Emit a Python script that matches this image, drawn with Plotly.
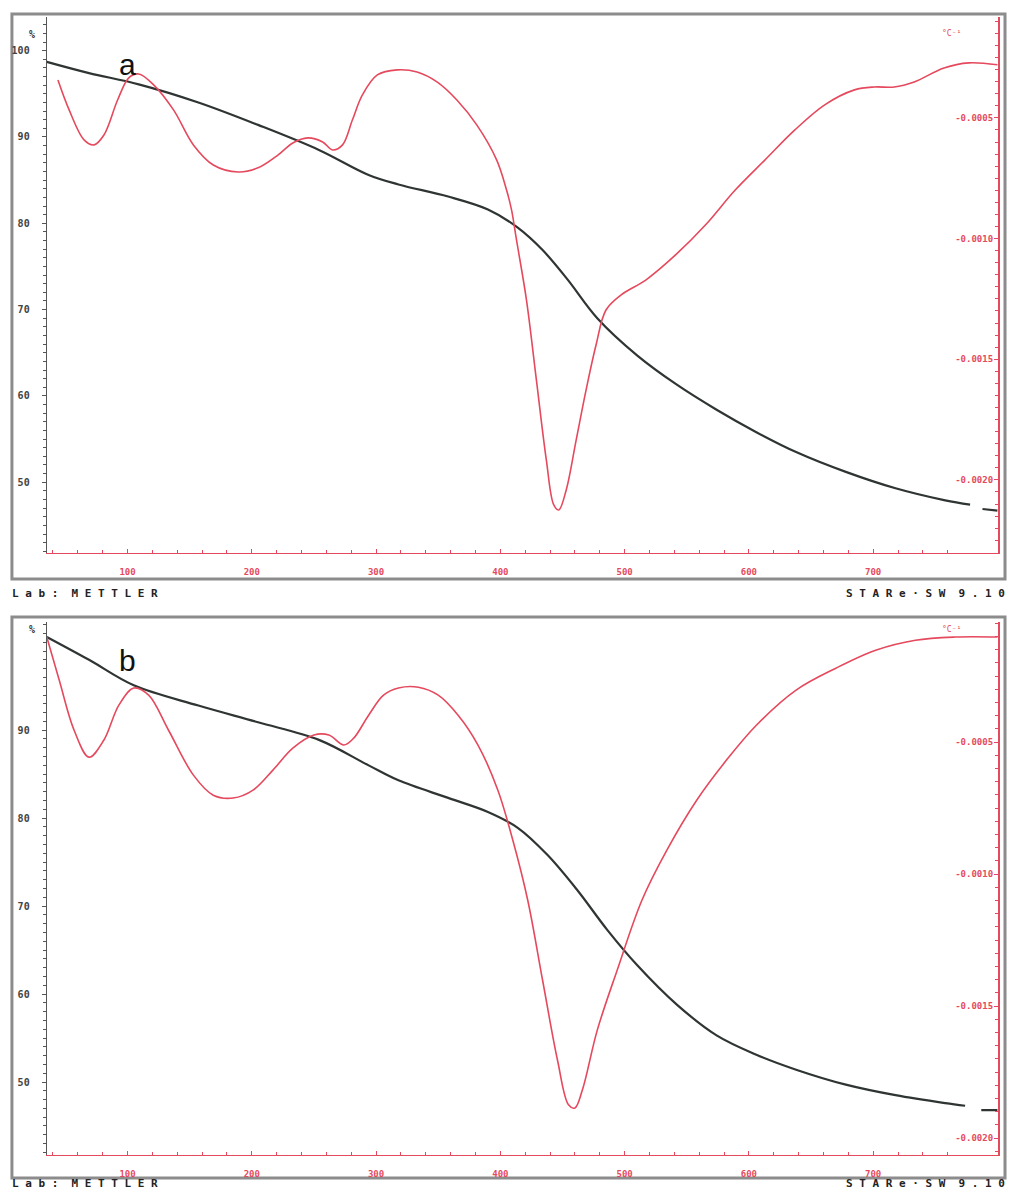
import plotly.graph_objects as go

W, H = 1013, 1201

# ---------------- Panel a ----------------
temp_a_tg = [35, 69, 109, 157, 205, 254, 294, 318, 358, 390, 414, 434, 454, 478, 510, 542,
             574, 606, 638, 678, 718, 758, 778, None, 788, 800]
tg_a = [98.7, 97.4, 96.1, 94.0, 91.4, 88.5, 85.6, 84.5, 83.1, 81.6, 79.5, 76.9, 73.5, 69.0,
        64.7, 61.3, 58.4, 55.8, 53.5, 51.2, 49.3, 47.9, 47.4, None, 46.9, 46.7]

temp_a_dtg = [44, 53, 65, 73, 81, 92, 101, 109, 121, 137, 153, 169, 189, 205, 221, 233, 245,
              257, 265, 273, 281, 289, 301, 317, 333, 349, 365, 381, 397, 405, 409, 413, 421,
              429, 437, 443, 447, 453, 461, 469, 477, 485, 497, 517, 541, 565, 589, 613, 637,
              661, 685, 701, 717, 733, 757, 777, 800]
dtg_a = [-0.000343, -0.000467, -0.000591, -0.000612, -0.000571, -0.000426, -0.000334, -0.000318,
         -0.000363, -0.000467, -0.000612, -0.000695, -0.000724, -0.000707, -0.000654, -0.000604,
         -0.000583, -0.000600, -0.000633, -0.000612, -0.000508, -0.000405, -0.000322, -0.000301,
         -0.000310, -0.000351, -0.000426, -0.000529, -0.000674, -0.000799, -0.000881, -0.001006,
         -0.001254, -0.001586, -0.001917, -0.002104, -0.002125, -0.002042, -0.001835, -0.001627,
         -0.001441, -0.001296, -0.001234, -0.001172, -0.001068, -0.000944, -0.000799, -0.000674,
         -0.000550, -0.000446, -0.000384, -0.000372, -0.000372, -0.000351, -0.000293, -0.000272,
         -0.000280]

# ---------------- Panel b ----------------
temp_b_tg = [35, 69, 105, 157, 205, 254, 294, 318, 358, 390, 414, 438, 462, 486, 510, 542,
             574, 606, 638, 678, 718, 758, 774, None, 787, 800]
tg_b = [100.6, 98.0, 95.1, 92.8, 90.9, 88.9, 86.0, 84.3, 82.3, 80.7, 78.9, 75.8, 71.8, 67.3,
        63.3, 58.8, 55.3, 53.1, 51.4, 49.7, 48.5, 47.6, 47.3, None, 46.8, 46.8]

temp_b_dtg = [35, 45, 57, 69, 81, 93, 105, 117, 133, 153, 169, 185, 201, 217, 233, 250, 262,
              274, 282, 294, 306, 318, 334, 350, 366, 382, 398, 410, 422, 434, 446, 455, 460,
              466, 478, 494, 514, 534, 558, 582, 606, 638, 670, 702, 734, 766, 800]
dtg_b = [-0.000102, -0.000265, -0.000455, -0.000557, -0.000492, -0.000360, -0.000295, -0.000322,
         -0.000455, -0.000625, -0.000701, -0.000712, -0.000682, -0.000606, -0.000523, -0.000473,
         -0.000473, -0.000511, -0.000485, -0.000398, -0.000322, -0.000295, -0.000292, -0.000322,
         -0.000398, -0.000511, -0.000682, -0.000871, -0.001098, -0.001402, -0.001705, -0.001875,
         -0.001886, -0.001818, -0.001591, -0.001364, -0.001098, -0.000909, -0.000720, -0.000568,
         -0.000436, -0.000303, -0.000220, -0.000152, -0.000114, -0.000102, -0.000102]

x_tickvals = [100, 200, 300, 400, 500, 600, 700, 800]
x_ticktext = ["100", "200", "300", "400", "500", "600", "700", "°C"]
tg_tickvals_a = [50, 60, 70, 80, 90, 100]
tg_tickvals_b = [50, 60, 70, 80, 90]
dtg_tickvals = [-0.0005, -0.0010, -0.0015, -0.0020]
dtg_ticktext = ["-0.0005", "-0.0010", "-0.0015", "-0.0020"]

BLACK = "#2f3533"
RED = "#e5495d"
GREY = "#8c8c8c"


def px(x):
    return x / W


def py(y):
    return 1 - y / H


fig = go.Figure()
fig.add_trace(go.Scatter(x=temp_a_tg, y=tg_a, mode="lines",
                         line=dict(color=BLACK, width=2.2, shape="spline", smoothing=1.0),
                         xaxis="x", yaxis="y", showlegend=False, connectgaps=False))
fig.add_trace(go.Scatter(x=temp_a_dtg, y=dtg_a, mode="lines", line=dict(color=RED, width=1.6, shape="spline"),
                         xaxis="x", yaxis="y2", showlegend=False))
fig.add_trace(go.Scatter(x=temp_b_tg, y=tg_b, mode="lines",
                         line=dict(color=BLACK, width=2.2, shape="spline", smoothing=1.0),
                         xaxis="x2", yaxis="y3", showlegend=False, connectgaps=False))
fig.add_trace(go.Scatter(x=temp_b_dtg, y=dtg_b, mode="lines", line=dict(color=RED, width=1.6, shape="spline"),
                         xaxis="x2", yaxis="y4", showlegend=False))

tickfont_dark = dict(family="DejaVu Sans Mono", size=10, color="#444444", weight="bold")
tickfont_red = dict(family="DejaVu Sans Mono", size=9, color=RED, weight="bold")


def xaxis_def(anchor):
    return dict(domain=[px(47), px(1003)], anchor=anchor, range=[35, 800.5],
                tickvals=x_tickvals, ticktext=x_ticktext, tickfont=tickfont_red,
                showgrid=False, zeroline=False, showline=True, linecolor=RED, linewidth=1.2,
                ticks="inside", ticklen=4, tickcolor=RED, ticklabelstandoff=10,
                minor=dict(dtick=20, tick0=0, ticks="inside", ticklen=3, tickcolor=RED))


def tg_axis(dom, rng, tv, anchor):
    return dict(domain=dom, anchor=anchor, range=rng, tickvals=tv, ticktext=[str(v) for v in tv],
                tickfont=tickfont_dark, showgrid=False, zeroline=False, showline=True,
                linecolor="#555555", linewidth=1.2, ticks="outside", ticklen=4,
                tickcolor="#555555", ticklabelstandoff=10,
                minor=dict(dtick=1, tick0=0, ticks="outside", ticklen=3, tickcolor="#555555"))


def dtg_axis(over, rng, anchor):
    return dict(overlaying=over, side="right", anchor=anchor, range=rng, tickvals=dtg_tickvals,
                ticktext=dtg_ticktext, tickfont=tickfont_red, ticklabelposition="inside",
                showgrid=False, zeroline=False, showline=True, linecolor=RED, linewidth=1.5,
                ticks="inside", ticklen=4, tickcolor=RED,
                minor=dict(dtick=0.00005, tick0=0, ticks="inside", ticklen=3, tickcolor=RED))


dom_a = [py(553), py(17)]
dom_b = [py(1155), py(622)]

fig.update_layout(
    width=W, height=H, margin=dict(l=0, r=0, t=0, b=0),
    paper_bgcolor="white", plot_bgcolor="white",
    xaxis=xaxis_def("y"),
    xaxis2=xaxis_def("y3"),
    yaxis=tg_axis(dom_a, [41.8, 103.9], tg_tickvals_a, "x"),
    yaxis2=dtg_axis("y", [-0.002303, -0.000082], "x"),
    yaxis3=tg_axis(dom_b, [41.7, 102.3], tg_tickvals_b, "x2"),
    yaxis4=dtg_axis("y3", [-0.002064, -0.000045], "x2"),
)

shapes = []
for (top, bot) in [(14, 579), (617, 1178)]:
    shapes.append(dict(type="rect", xref="paper", yref="paper", x0=px(12), x1=px(1010),
                       y0=py(bot), y1=py(top), line=dict(color=GREY, width=3), layer="below"))
fig.update_layout(shapes=shapes)

ann = []
for y_top, letter, y_letter, y_foot in [(27, "a", 46, 593), (629, "b", 660, 1192)]:
    ann.append(dict(text="%", x=px(27), y=py(y_top), xref="paper", yref="paper", showarrow=False,
                    font=dict(family="DejaVu Sans Mono", size=10, color="#333333", weight="bold")))
    ann.append(dict(text="°C⁻¹", x=px(968), y=py(y_top), xref="paper", yref="paper", showarrow=False,
                    font=dict(family="DejaVu Sans Mono", size=8, color=RED)))
    ann.append(dict(text=letter, x=px(118), y=py(y_letter), xref="paper", yref="paper", showarrow=False,
                    font=dict(family="Liberation Sans", size=30, color="#111111")))
    ann.append(dict(text="L a b :  M E T T L E R", x=px(10), y=py(y_foot),
                    xref="paper", yref="paper", xanchor="left", showarrow=False,
                    font=dict(family="DejaVu Sans Mono", size=11, color="#222222", weight="bold")))
    ann.append(dict(text="S T A R e · S W  9 . 1 0", x=px(1012),
                    y=py(y_foot), xref="paper", yref="paper", xanchor="right", showarrow=False,
                    font=dict(family="DejaVu Sans Mono", size=11, color="#222222", weight="bold")))
fig.update_layout(annotations=ann)

fig.write_html("out.html")
